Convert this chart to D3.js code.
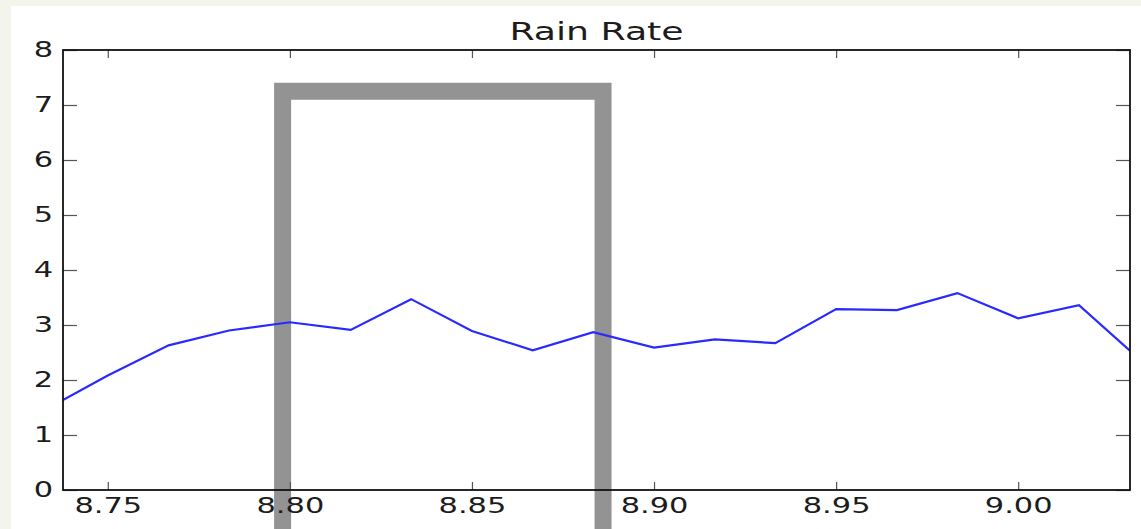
<!DOCTYPE html>
<html>
<head>
<meta charset="utf-8">
<script src="https://cdn.jsdelivr.net/npm/d3@7"></script>
<style>
  html, body { margin: 0; padding: 0; background: #f3f4eb; }
  svg { display: block; }
  text { font-family: "DejaVu Sans", sans-serif; fill: #1c1c1c; }
</style>
</head>
<body>
<svg id="chart" width="1141" height="529"></svg>
<script>
// Rain rate samples, one per minute (time in decimal hours)
const times = [8.7333, 8.7500, 8.7667, 8.7833, 8.8000, 8.8167, 8.8333, 8.8500, 8.8667, 8.8833,
               8.9000, 8.9167, 8.9333, 8.9500, 8.9667, 8.9833, 9.0000, 9.0167, 9.0333];
const rainRate = [1.48, 2.08, 2.63, 2.90, 3.05, 2.91, 3.47, 2.89, 2.54, 2.87,
                  2.59, 2.74, 2.67, 3.29, 3.27, 3.58, 3.12, 3.36, 2.38];
const xTicks = [8.75, 8.80, 8.85, 8.90, 8.95, 9.00];
const xTickLabels = ["8.75", "8.80", "8.85", "8.90", "8.95", "9.00"];
const yTicks = [0, 1, 2, 3, 4, 5, 6, 7, 8];
const xRange = [8.7377, 9.0307];
const yRange = [0, 8];
// Highlighted time window (x0, x1, top value)
const highlight = [8.798, 8.886, 7.25];
const title = "Rain Rate";

const svg = d3.select("#chart");
const W = 1141, H = 529;
const plot = { left: 63, top: 50, right: 1130, bottom: 490 };
const sx = 1.45; // horizontal text stretch

// white panel
svg.append("rect").attr("x", 11).attr("y", 6).attr("width", W - 11).attr("height", H - 6).attr("fill", "#ffffff");

const x = d3.scaleLinear().domain(xRange).range([plot.left, plot.right]);
const y = d3.scaleLinear().domain(yRange).range([plot.bottom, plot.top]);

// highlight frame
const hx0 = x(highlight[0]), hx1 = x(highlight[1]), hy = y(highlight[2]);
svg.append("path")
  .attr("d", `M${hx0},${H + 20} L${hx0},${hy} L${hx1},${hy} L${hx1},${H + 20}`)
  .attr("fill", "none")
  .attr("stroke", "#939393")
  .attr("stroke-width", 17)
  .attr("stroke-linejoin", "miter");

// ticks (inward, all four sides)
function styleAxis(g) {
  g.select(".domain").remove();
  g.selectAll(".tick line").attr("stroke", "#555").attr("stroke-width", 1.2);
}
const bottomAxis = svg.append("g")
  .attr("transform", `translate(0,${plot.bottom})`)
  .call(d3.axisBottom(x).tickValues(xTicks).tickFormat((d, i) => xTickLabels[i])
        .tickSizeInner(-8).tickSizeOuter(0).tickPadding(8));
styleAxis(bottomAxis);
bottomAxis.selectAll("text")
  .attr("font-size", 21)
  .attr("transform", `scale(${sx},1)`);

const leftAxis = svg.append("g")
  .attr("transform", `translate(${plot.left},0)`)
  .call(d3.axisLeft(y).tickValues(yTicks).tickFormat(d3.format("d"))
        .tickSizeInner(-14).tickSizeOuter(0).tickPadding(10));
styleAxis(leftAxis);
leftAxis.selectAll("text")
  .attr("font-size", 21)
  .attr("x", -10 / sx)
  .attr("transform", `scale(${sx},1)`);

const topAxis = svg.append("g")
  .attr("transform", `translate(0,${plot.top})`)
  .call(d3.axisTop(x).tickValues(xTicks).tickFormat("").tickSizeInner(-8).tickSizeOuter(0));
styleAxis(topAxis);

const rightAxis = svg.append("g")
  .attr("transform", `translate(${plot.right},0)`)
  .call(d3.axisRight(y).tickValues(yTicks).tickFormat("").tickSizeInner(-14).tickSizeOuter(0));
styleAxis(rightAxis);

// data line, clipped to the axes box
svg.append("clipPath").attr("id", "plotClip")
  .append("rect")
  .attr("x", plot.left).attr("y", plot.top)
  .attr("width", plot.right - plot.left).attr("height", plot.bottom - plot.top);

const line = d3.line().x((d, i) => x(times[i])).y(d => y(d));
svg.append("path")
  .datum(rainRate)
  .attr("clip-path", "url(#plotClip)")
  .attr("d", line)
  .attr("fill", "none")
  .attr("stroke", "#2a2aff")
  .attr("stroke-width", 2.2)
  .attr("stroke-linejoin", "miter");

// axes frame
svg.append("rect")
  .attr("x", plot.left).attr("y", plot.top)
  .attr("width", plot.right - plot.left).attr("height", plot.bottom - plot.top)
  .attr("fill", "none")
  .attr("stroke", "#111")
  .attr("stroke-width", 1.8);

// title
svg.append("text")
  .attr("transform", `translate(${(plot.left + plot.right) / 2},40) scale(${sx},1)`)
  .attr("text-anchor", "middle")
  .attr("font-size", 25)
  .text(title);
</script>
</body>
</html>
